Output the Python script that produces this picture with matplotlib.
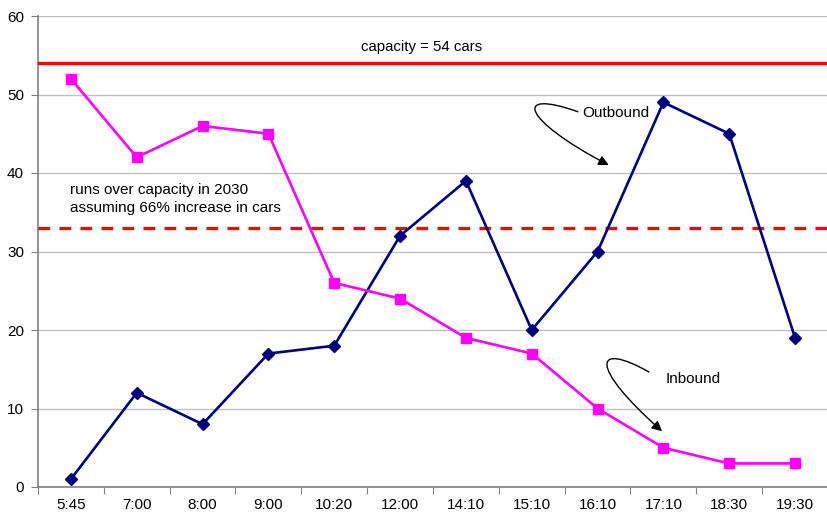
import matplotlib
matplotlib.use("Agg")
import matplotlib.pyplot as plt
from matplotlib.path import Path
from matplotlib.patches import FancyArrowPatch

plt.rcParams['font.family'] = ['Liberation Sans', 'DejaVu Sans']

times = ["5:45", "7:00", "8:00", "9:00", "10:20", "12:00", "14:10",
         "15:10", "16:10", "17:10", "18:30", "19:30"]
outbound = [1, 12, 8, 17, 18, 32, 39, 20, 30, 49, 45, 19]
inbound = [52, 42, 46, 45, 26, 24, 19, 17, 10, 5, 3, 3]
capacity = 54
capacity_2030 = 33

fig = plt.figure(figsize=(8.28, 5.16), dpi=100)
ax = fig.add_axes([38 / 828, 29 / 516, 790 / 828, 471 / 516])

x = list(range(len(times)))
ax.plot(x, outbound, color="#000080", lw=1.9, marker="D", ms=6, zorder=4)
ax.plot(x, inbound, color="#FF00FF", lw=1.9, marker="s", ms=7.5, zorder=4)

ax.axhline(capacity, color="#FF0000", lw=2.4, zorder=3)
ax.axhline(capacity_2030, color="#FF0000", lw=2.4, ls=(0, (3.5, 2.8)), zorder=3)

ax.set_xlim(-0.5, len(times) - 0.5)
ax.set_ylim(0, 60)
ax.set_yticks(range(0, 61, 10))
ax.set_xticks([i - 0.5 for i in range(len(times) + 1)])
ax.set_xticklabels([])
ax.set_xticks(x, minor=True)
ax.set_xticklabels(times, minor=True)
ax.tick_params(axis="x", which="minor", length=0, pad=8, labelsize=11)
ax.tick_params(axis="x", which="major", length=5, color="#808080", direction="out")
ax.tick_params(axis="y", length=5, color="#808080", labelsize=11, pad=5)

ax.yaxis.grid(True, color="#C0C0C0", lw=1)
ax.set_axisbelow(True)
for s in ["top", "right"]:
    ax.spines[s].set_visible(False)
for s in ["left", "bottom"]:
    ax.spines[s].set_color("#808080")
    ax.spines[s].set_linewidth(1.2)

ax.text(5.33, 56.0, "capacity = 54 cars", ha="center", va="center", fontsize=10.8)
ax.text(-0.02, 36.7, "runs over capacity in 2030\nassuming 66% increase in cars",
        ha="left", va="center", fontsize=11, linespacing=1.4)
ax.text(7.76, 47.6, "Outbound", ha="left", va="center", fontsize=11)
ax.text(9.04, 13.8, "Inbound", ha="left", va="center", fontsize=11)

def looped_arrow(p0, p1, p2, p3):
    path = Path([p0, p1, p2, p3],
                [Path.MOVETO, Path.CURVE4, Path.CURVE4, Path.CURVE4])
    arr = FancyArrowPatch(path=path, arrowstyle="-|>,head_length=6,head_width=3",
                          color="black", lw=1, transform=ax.transData, zorder=5)
    ax.add_patch(arr)

looped_arrow((7.70, 47.8), (6.7, 50.8), (6.85, 46.8), (8.17, 41.0))
looped_arrow((8.78, 14.65), (7.95, 18.6), (7.85, 15.5), (8.98, 7.1))

fig.savefig("out.png", dpi=100)
